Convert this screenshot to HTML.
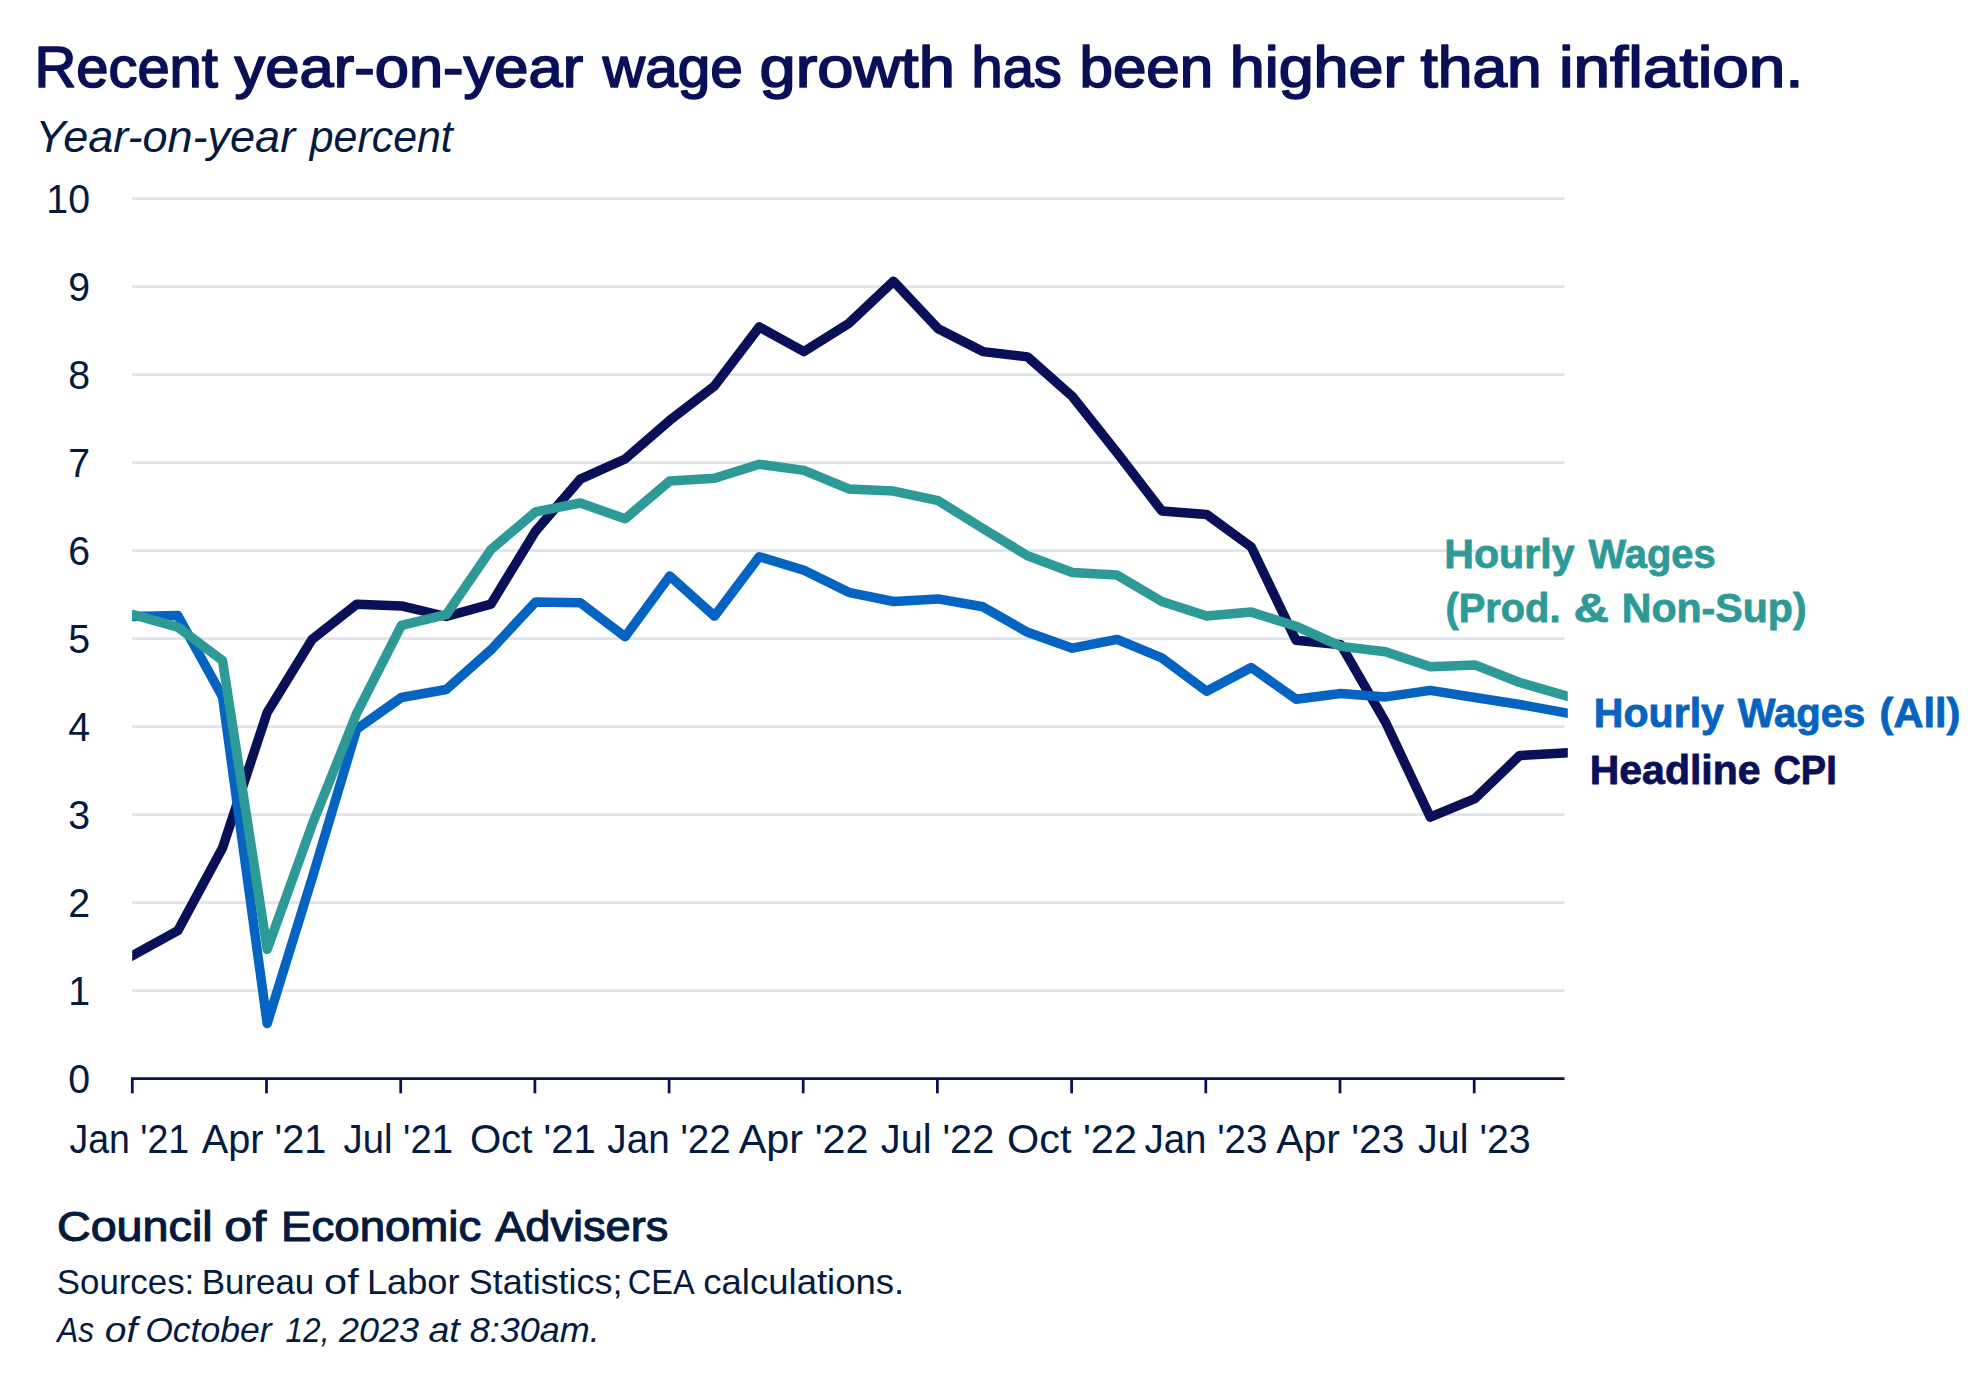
<!DOCTYPE html>
<html lang="en">
<head>
<meta charset="utf-8">
<title>Recent year-on-year wage growth has been higher than inflation.</title>
<style>
html,body{margin:0;padding:0;background:#fff;}
body{width:1979px;height:1373px;overflow:hidden;}
svg{display:block;}
text{font-family:"Liberation Sans",sans-serif;}
.b{font-weight:bold;}
.i{font-style:italic;}
</style>
</head>
<body>
<svg width="1979" height="1373" viewBox="0 0 1979 1373">
<rect width="1979" height="1373" fill="#ffffff"/>
<g stroke="#DFE3EE" stroke-width="2.7">
<line x1="132.3" x2="1564.5" y1="990.55" y2="990.55"/>
<line x1="132.3" x2="1564.5" y1="902.55" y2="902.55"/>
<line x1="132.3" x2="1564.5" y1="814.55" y2="814.55"/>
<line x1="132.3" x2="1564.5" y1="726.55" y2="726.55"/>
<line x1="132.3" x2="1564.5" y1="638.55" y2="638.55"/>
<line x1="132.3" x2="1564.5" y1="550.55" y2="550.55"/>
<line x1="132.3" x2="1564.5" y1="462.55" y2="462.55"/>
<line x1="132.3" x2="1564.5" y1="374.55" y2="374.55"/>
<line x1="132.3" x2="1564.5" y1="286.55" y2="286.55"/>
<line x1="132.3" x2="1564.5" y1="198.55" y2="198.55"/>
</g>
<defs><clipPath id="plotclip"><rect x="132.2" y="150" width="1435.6" height="940"/></clipPath></defs>
<g fill="none" stroke-width="9.5" stroke-linejoin="round" stroke-linecap="square" clip-path="url(#plotclip)">
<polyline stroke="#0A1057" points="133.1,955.3 177.8,930.7 222.5,847.9 267.2,712.4 312.0,639.4 356.7,604.2 401.4,605.9 446.2,616.5 490.9,604.2 535.6,531.1 580.3,479.2 625.1,459.0 669.8,420.3 714.5,385.9 759.3,327.0 804.0,351.6 848.7,323.5 893.5,281.2 938.2,328.7 982.9,351.6 1027.6,356.9 1072.4,396.5 1117.1,452.8 1161.8,510.9 1206.6,514.4 1251.3,547.0 1296.0,640.3 1340.8,644.7 1385.5,722.1 1430.2,817.1 1474.9,798.7 1519.7,755.5 1564.4,752.9"/>
<polyline stroke="#0563C1" points="133.1,616.5 177.8,615.6 222.5,696.6 267.2,1023.5 312.0,878.7 356.7,729.1 401.4,697.5 446.2,689.5 490.9,649.9 535.6,601.9 580.3,602.7 625.1,636.7 669.8,576.0 714.5,616.1 759.3,556.7 804.0,570.3 848.7,592.3 893.5,601.5 938.2,598.9 982.9,606.8 1027.6,632.3 1072.4,648.2 1117.1,639.4 1161.8,657.9 1206.6,691.3 1251.3,667.5 1296.0,699.2 1340.8,693.5 1385.5,696.9 1430.2,690.4 1474.9,697.5 1519.7,704.5 1564.4,712.6"/>
<polyline stroke="#2E9A97" points="133.1,614.7 177.8,627.1 222.5,660.5 267.2,949.4 312.0,825.1 356.7,713.3 401.4,625.3 446.2,614.7 490.9,549.6 535.6,511.8 580.3,503.0 625.1,518.8 669.8,481.0 714.5,478.3 759.3,464.3 804.0,470.4 848.7,488.9 893.5,491.1 938.2,500.7 982.9,528.5 1027.6,555.8 1072.4,572.5 1117.1,575.1 1161.8,601.5 1206.6,616.1 1251.3,612.1 1296.0,626.2 1340.8,646.4 1385.5,651.7 1430.2,666.7 1474.9,664.9 1519.7,682.5 1564.4,695.3"/>
</g>
<g stroke="#0A1057" stroke-width="2.75" fill="none">
<line x1="131" x2="1564.5" y1="1078.5" y2="1078.5"/>
<line x1="132.3" x2="132.3" y1="1078.5" y2="1093.3"/>
<line x1="266.5" x2="266.5" y1="1078.5" y2="1093.3"/>
<line x1="400.7" x2="400.7" y1="1078.5" y2="1093.3"/>
<line x1="534.9" x2="534.9" y1="1078.5" y2="1093.3"/>
<line x1="669.1" x2="669.1" y1="1078.5" y2="1093.3"/>
<line x1="803.2" x2="803.2" y1="1078.5" y2="1093.3"/>
<line x1="937.4" x2="937.4" y1="1078.5" y2="1093.3"/>
<line x1="1071.6" x2="1071.6" y1="1078.5" y2="1093.3"/>
<line x1="1205.8" x2="1205.8" y1="1078.5" y2="1093.3"/>
<line x1="1340.0" x2="1340.0" y1="1078.5" y2="1093.3"/>
<line x1="1474.2" x2="1474.2" y1="1078.5" y2="1093.3"/>
</g>
<text x="90.0" y="1092.7" font-size="40.5" fill="#051A40" text-anchor="end" textLength="21.85" lengthAdjust="spacingAndGlyphs">0</text>
<text x="90.0" y="1004.7" font-size="40.5" fill="#051A40" text-anchor="end" textLength="21.85" lengthAdjust="spacingAndGlyphs">1</text>
<text x="90.0" y="916.7" font-size="40.5" fill="#051A40" text-anchor="end" textLength="21.85" lengthAdjust="spacingAndGlyphs">2</text>
<text x="90.0" y="828.7" font-size="40.5" fill="#051A40" text-anchor="end" textLength="21.85" lengthAdjust="spacingAndGlyphs">3</text>
<text x="90.0" y="740.7" font-size="40.5" fill="#051A40" text-anchor="end" textLength="21.85" lengthAdjust="spacingAndGlyphs">4</text>
<text x="90.0" y="652.7" font-size="40.5" fill="#051A40" text-anchor="end" textLength="21.85" lengthAdjust="spacingAndGlyphs">5</text>
<text x="90.0" y="564.7" font-size="40.5" fill="#051A40" text-anchor="end" textLength="21.85" lengthAdjust="spacingAndGlyphs">6</text>
<text x="90.0" y="476.7" font-size="40.5" fill="#051A40" text-anchor="end" textLength="21.85" lengthAdjust="spacingAndGlyphs">7</text>
<text x="90.0" y="388.7" font-size="40.5" fill="#051A40" text-anchor="end" textLength="21.85" lengthAdjust="spacingAndGlyphs">8</text>
<text x="90.0" y="300.7" font-size="40.5" fill="#051A40" text-anchor="end" textLength="21.85" lengthAdjust="spacingAndGlyphs">9</text>
<text x="90.0" y="212.7" font-size="40.5" fill="#051A40" text-anchor="end" textLength="43.71" lengthAdjust="spacingAndGlyphs">10</text>
<text y="87.0" font-size="57.0" fill="#0A1057" stroke="#0A1057" stroke-width="1.7" stroke-linejoin="round"><tspan x="34.4" textLength="183.51" lengthAdjust="spacingAndGlyphs">Recent</tspan> <tspan x="234.63" textLength="348.52" lengthAdjust="spacingAndGlyphs">year-on-year</tspan> <tspan x="602.86" textLength="140.01" lengthAdjust="spacingAndGlyphs">wage</tspan> <tspan x="759.47" textLength="195.38" lengthAdjust="spacingAndGlyphs">growth</tspan> <tspan x="971.55" textLength="90.2" lengthAdjust="spacingAndGlyphs">has</tspan> <tspan x="1079.52" textLength="133.72" lengthAdjust="spacingAndGlyphs">been</tspan> <tspan x="1229.74" textLength="174.7" lengthAdjust="spacingAndGlyphs">higher</tspan> <tspan x="1420.53" textLength="121.23" lengthAdjust="spacingAndGlyphs">than</tspan> <tspan x="1559.0" textLength="244.56" lengthAdjust="spacingAndGlyphs">inflation.</tspan></text>
<text y="152.3" font-size="44.6" fill="#051A40" class="i"><tspan x="35.64" textLength="259.51" lengthAdjust="spacingAndGlyphs">Year-on-year</tspan> <tspan x="309.78" textLength="142.95" lengthAdjust="spacingAndGlyphs">percent</tspan></text>
<text y="1153.2" font-size="40.5" fill="#051A40"><tspan x="69.45" textLength="119.78" lengthAdjust="spacingAndGlyphs">Jan '21</tspan></text>
<text y="1153.2" font-size="40.5" fill="#051A40"><tspan x="201.83" textLength="124.52" lengthAdjust="spacingAndGlyphs">Apr '21</tspan></text>
<text y="1153.2" font-size="40.5" fill="#051A40"><tspan x="343.62" textLength="109.33" lengthAdjust="spacingAndGlyphs">Jul '21</tspan></text>
<text y="1153.2" font-size="40.5" fill="#051A40"><tspan x="469.89" textLength="126.01" lengthAdjust="spacingAndGlyphs">Oct '21</tspan></text>
<text y="1153.2" font-size="40.5" fill="#051A40"><tspan x="607.33" textLength="123.52" lengthAdjust="spacingAndGlyphs">Jan '22</tspan></text>
<text y="1153.2" font-size="40.5" fill="#051A40"><tspan x="738.75" textLength="129.84" lengthAdjust="spacingAndGlyphs">Apr '22</tspan></text>
<text y="1153.2" font-size="40.5" fill="#051A40"><tspan x="880.85" textLength="113.39" lengthAdjust="spacingAndGlyphs">Jul '22</tspan></text>
<text y="1153.2" font-size="40.5" fill="#051A40"><tspan x="1007.05" textLength="129.88" lengthAdjust="spacingAndGlyphs">Oct '22</tspan></text>
<text y="1153.2" font-size="40.5" fill="#051A40"><tspan x="1144.38" textLength="123.13" lengthAdjust="spacingAndGlyphs">Jan '23</tspan></text>
<text y="1153.2" font-size="40.5" fill="#051A40"><tspan x="1276.2" textLength="128.42" lengthAdjust="spacingAndGlyphs">Apr '23</tspan></text>
<text y="1153.2" font-size="40.5" fill="#051A40"><tspan x="1418.11" textLength="112.63" lengthAdjust="spacingAndGlyphs">Jul '23</tspan></text>
<text y="567.7" font-size="40.0" fill="#2E9A97" class="b" stroke="#2E9A97" stroke-width="0.8" stroke-linejoin="round"><tspan x="1444.26" textLength="130.3" lengthAdjust="spacingAndGlyphs">Hourly</tspan> <tspan x="1588.61" textLength="127.17" lengthAdjust="spacingAndGlyphs">Wages</tspan></text>
<text y="621.7" font-size="40.0" fill="#2E9A97" class="b" stroke="#2E9A97" stroke-width="0.8" stroke-linejoin="round"><tspan x="1445.54" textLength="114.96" lengthAdjust="spacingAndGlyphs">(Prod.</tspan> <tspan x="1573.48" textLength="35.54" lengthAdjust="spacingAndGlyphs">&amp;</tspan> <tspan x="1621.75" textLength="184.82" lengthAdjust="spacingAndGlyphs">Non-Sup)</tspan></text>
<text y="726.5" font-size="40.0" fill="#0563C1" class="b" stroke="#0563C1" stroke-width="0.8" stroke-linejoin="round"><tspan x="1593.87" textLength="130.09" lengthAdjust="spacingAndGlyphs">Hourly</tspan> <tspan x="1737.84" textLength="127.5" lengthAdjust="spacingAndGlyphs">Wages</tspan> <tspan x="1879.61" textLength="80.78" lengthAdjust="spacingAndGlyphs">(All)</tspan></text>
<text y="784.3000000000001" font-size="40.0" fill="#0A1057" class="b" stroke="#0A1057" stroke-width="0.8" stroke-linejoin="round"><tspan x="1589.76" textLength="170.75" lengthAdjust="spacingAndGlyphs">Headline</tspan> <tspan x="1773.47" textLength="63.26" lengthAdjust="spacingAndGlyphs">CPI</tspan></text>
<text y="1241.1" font-size="42.4" fill="#051A40" stroke="#051A40" stroke-width="1.1" stroke-linejoin="round"><tspan x="56.92" textLength="155.75" lengthAdjust="spacingAndGlyphs">Council</tspan> <tspan x="224.2" textLength="41.91" lengthAdjust="spacingAndGlyphs">of</tspan> <tspan x="281.06" textLength="200.25" lengthAdjust="spacingAndGlyphs">Economic</tspan> <tspan x="495.15" textLength="173.25" lengthAdjust="spacingAndGlyphs">Advisers</tspan></text>
<text y="1293.8" font-size="35.6" fill="#051A40"><tspan x="56.77" textLength="137.5" lengthAdjust="spacingAndGlyphs">Sources:</tspan> <tspan x="201.69" textLength="112.58" lengthAdjust="spacingAndGlyphs">Bureau</tspan> <tspan x="324.08" textLength="34.66" lengthAdjust="spacingAndGlyphs">of</tspan> <tspan x="366.95" textLength="92.49" lengthAdjust="spacingAndGlyphs">Labor</tspan> <tspan x="468.8" textLength="153.66" lengthAdjust="spacingAndGlyphs">Statistics;</tspan> <tspan x="627.76" textLength="65.05" lengthAdjust="spacingAndGlyphs">CEA</tspan> <tspan x="703.24" textLength="201.03" lengthAdjust="spacingAndGlyphs">calculations.</tspan></text>
<text y="1341.5" font-size="35.6" fill="#051A40" class="i"><tspan x="57.18" textLength="36.73" lengthAdjust="spacingAndGlyphs">As</tspan> <tspan x="104.82" textLength="32.58" lengthAdjust="spacingAndGlyphs">of</tspan> <tspan x="145.14" textLength="126.53" lengthAdjust="spacingAndGlyphs">October</tspan> <tspan x="285.59" textLength="43.86" lengthAdjust="spacingAndGlyphs">12,</tspan> <tspan x="338.96" textLength="80.06" lengthAdjust="spacingAndGlyphs">2023</tspan> <tspan x="428.42" textLength="31.33" lengthAdjust="spacingAndGlyphs">at</tspan> <tspan x="469.85" textLength="129.91" lengthAdjust="spacingAndGlyphs">8:30am.</tspan></text>
</svg>
</body>
</html>
